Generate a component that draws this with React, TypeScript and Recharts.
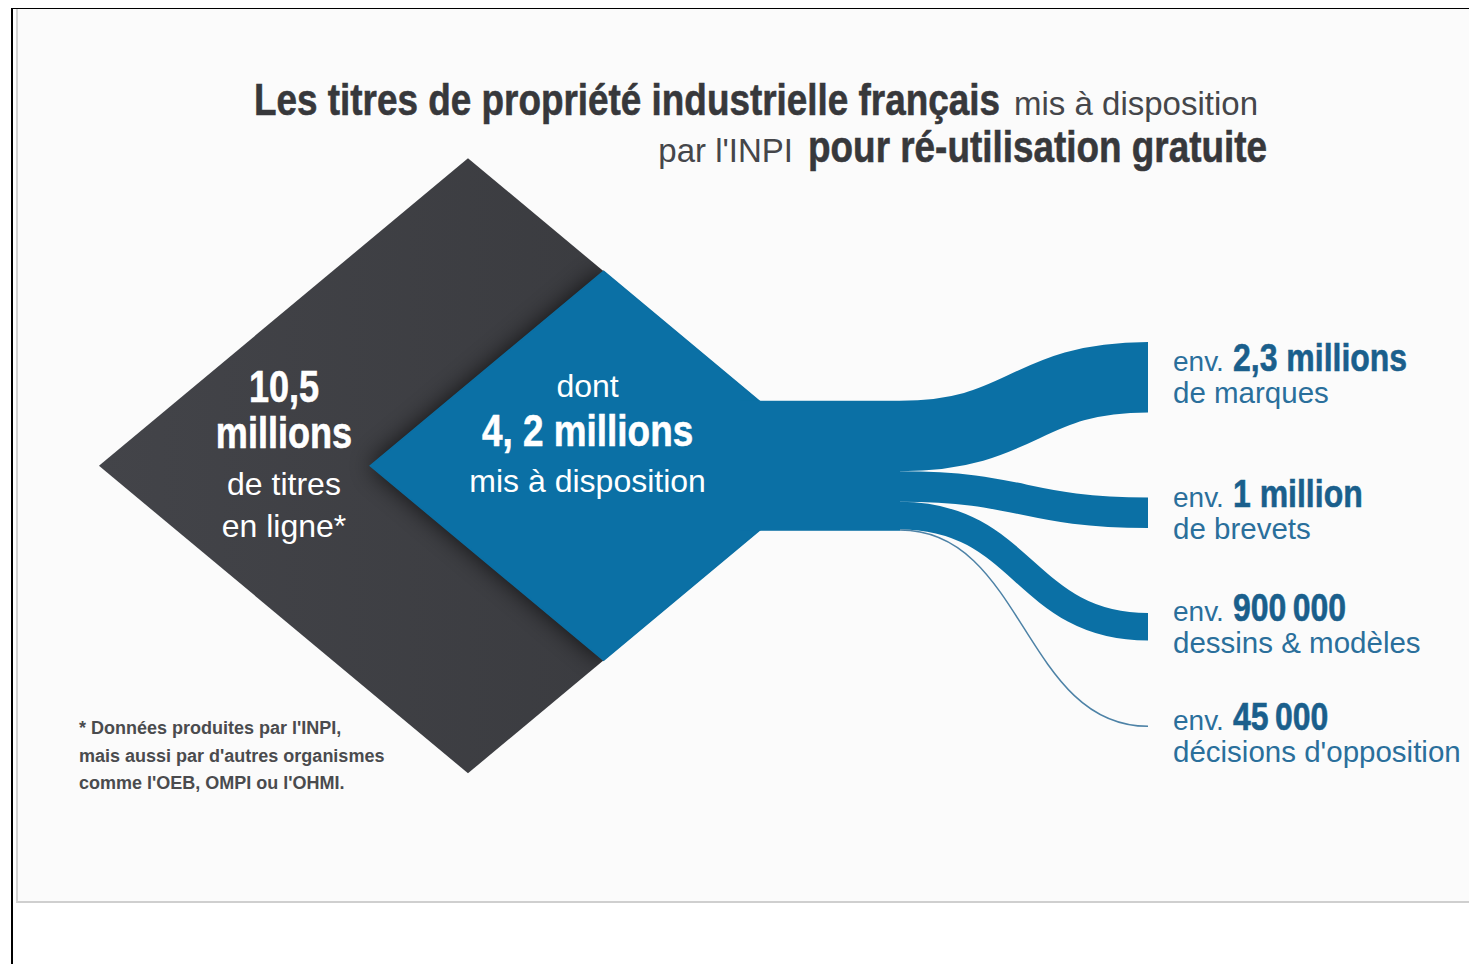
import { Sankey } from "recharts";

const BLUE = "#0b70a5";
const LABEL_BLUE = "#2a6f9b";
const LABEL_BLUE_STRONG = "#1a5f8c";
const TITLE_GRAY = "#37383b";

const SANS = "'Liberation Sans', Arial, sans-serif";
const NARROW_SCALE = 0.82;

// millions de titres
const TOTAL_ONLINE = 10.5;
const AVAILABLE = 4.2;

const categories = ["marques", "brevets", "dessins & modèles", "décisions d'opposition"];
const amounts = [2300000, 1000000, 900000, 45000];
const amountLabels = ["2,3 millions", "1 million", "900\u2009000", "45\u2009000"];
const captions = ["de marques", "de brevets", "dessins & modèles", "décisions d'opposition"];

const footnoteLines = [
  "* Données produites par l'INPI,",
  "mais aussi par d'autres organismes",
  "comme l'OEB, OMPI ou l'OHMI.",
];

const sankeyData = {
  nodes: [{ name: "mis à disposition" }, ...categories.map((name) => ({ name }))],
  links: amounts.map((value, i) => ({ source: 0, target: i + 1, value })),
};

// diamond half-height per sqrt(million), width/height ratio
const DIAMOND_K = 94.9;
const DIAMOND_ASPECT = 1.2;

// condensed bold text: no narrow font installed, so squeeze Liberation Sans Bold
function Narrow({ x, y, size, fill, anchor = "start", children }: any) {
  return (
    <text
      transform={`translate(${x},${y}) scale(${NARROW_SCALE},1)`}
      textAnchor={anchor}
      fontFamily={SANS}
      fontWeight={700}
      fontSize={size}
      fill={fill}
      stroke={fill}
      strokeWidth={0.6}
    >
      {children}
    </text>
  );
}

function SourceNode({ x, y, width, height }: any) {
  const cy = y + height / 2;
  const rx = x + 97;
  const hd = DIAMOND_K * Math.sqrt(TOTAL_ONLINE);
  const wd = hd * DIAMOND_ASPECT;
  const hb = DIAMOND_K * Math.sqrt(AVAILABLE);
  const wb = hb * DIAMOND_ASPECT;
  const dcx = rx - wd;
  const bcx = rx - wb;
  const dark = `${dcx - wd},${cy} ${dcx},${cy - hd} ${rx},${cy} ${dcx},${cy + hd}`;
  const blue = `${bcx - wb},${cy} ${bcx},${cy - hb} ${rx},${cy} ${bcx},${cy + hb}`;
  const tx = dcx - 184;
  const bx = bcx - 16;
  return (
    <g>
      <defs>
        <clipPath id="darkClip">
          <polygon points={dark} />
        </clipPath>
        <filter id="blueShadow" x="-30%" y="-30%" width="160%" height="160%">
          <feGaussianBlur stdDeviation="12" />
        </filter>
        <linearGradient id="darkGrad" x1="0" y1="0" x2="1" y2="0">
          <stop offset="0%" stopColor="#434449" />
          <stop offset="100%" stopColor="#37383c" />
        </linearGradient>
      </defs>
      <polygon points={dark} fill="url(#darkGrad)" />
      <g clipPath="url(#darkClip)">
        <polygon points={blue} fill="#000" opacity={0.75} filter="url(#blueShadow)" />
      </g>
      <polygon points={blue} fill={BLUE} stroke={BLUE} strokeWidth={1.5} />
      <rect x={x} y={y} width={width} height={height} fill={BLUE} />

      <Narrow x={tx} y={cy - 64} size={44} fill="#fff" anchor="middle">10,5</Narrow>
      <Narrow x={tx} y={cy - 18} size={44} fill="#fff" anchor="middle">millions</Narrow>
      <g fill="#fff" textAnchor="middle" fontFamily={SANS} fontSize={32}>
        <text x={tx} y={cy + 29}>de titres</text>
        <text x={tx} y={cy + 71}>en ligne*</text>
        <text x={bx} y={cy - 69}>dont</text>
        <text x={bx} y={cy + 26}>mis à disposition</text>
      </g>
      <Narrow x={bx} y={cy - 20} size={45} fill="#fff" anchor="middle">4, 2 millions</Narrow>
    </g>
  );
}

function renderNode(props: any) {
  const { x, y, width, height, index } = props;
  if (index === 0) return <SourceNode x={x} y={y} width={width} height={height} />;
  const i = index - 1;
  const shift = height < 10 ? 10 : 0;
  const cy = y + height / 2 + shift;
  const lx = x + 25;
  return (
    <g>
      <text x={lx} y={cy - 6} fill={LABEL_BLUE} fontFamily={SANS} fontSize={28}>
        env.
      </text>
      <Narrow x={lx + 60} y={cy - 6} size={39} fill={LABEL_BLUE_STRONG}>
        {amountLabels[i]}
      </Narrow>
      <text x={lx} y={cy + 26} fill={LABEL_BLUE} fontFamily={SANS} fontSize={29.5}>
        {captions[i]}
      </text>
    </g>
  );
}

function renderLink(props: any) {
  const { sourceX, sourceY, sourceControlX, targetX, targetY, targetControlX, linkWidth } = props;
  const thin = linkWidth < 3;
  return (
    <path
      d={`M${sourceX},${sourceY}C${sourceControlX},${sourceY} ${targetControlX},${targetY} ${targetX},${targetY}`}
      fill="none"
      stroke={thin ? "#4d82a6" : BLUE}
      strokeWidth={Math.max(linkWidth, 1.5)}
    />
  );
}

export default function App() {
  return (
    <div
      style={{
        position: "relative",
        width: 1477,
        height: 972,
        margin: -8,
        background: "#fff",
        overflow: "hidden",
      }}
    >
      <div style={{ position: "absolute", left: 11, top: 6, width: 1466, height: 3, background: "#000" }} />
      <div style={{ position: "absolute", left: 11, top: 6, width: 2, height: 966, background: "#000" }} />
      <div
        style={{
          position: "absolute",
          left: 16,
          top: 9,
          width: 1470,
          height: 892,
          background: "#fbfbfb",
          borderLeft: "2px solid #d4d4d4",
          borderBottom: "2px solid #cfcfcf",
        }}
      />
      <svg width={1477} height={972} style={{ position: "absolute", left: 0, top: 0 }}>
        <Narrow x={1000} y={115} size={45} fill={TITLE_GRAY} anchor="end">
          Les titres de propriété industrielle français
        </Narrow>
        <text x={1258} y={115} textAnchor="end" fill="#45464a" fontFamily={SANS} fontSize={33}>
          mis à disposition
        </text>
        <text x={793} y={162} textAnchor="end" fill="#45464a" fontFamily={SANS} fontSize={33}>
          par l'INPI
        </text>
        <Narrow x={1267} y={162} size={45} fill={TITLE_GRAY} anchor="end">
          pour ré-utilisation gratuite
        </Narrow>
        {footnoteLines.map((line, i) => (
          <text key={i} x={79} y={734 + i * 27.5} fill="#4a4b4e" fontFamily={SANS} fontWeight={700} fontSize={18}>
            {line}
          </text>
        ))}
      </svg>
      <div style={{ position: "absolute", left: 0, top: 0 }}>
        <Sankey
          width={1477}
          height={972}
          data={sankeyData}
          margin={{ top: 342, left: 740, right: 169, bottom: 245 }}
          nodeWidth={160}
          nodePadding={85}
          iterations={32}
          sort={false}
          node={renderNode}
          link={renderLink}
        />
      </div>
    </div>
  );
}
